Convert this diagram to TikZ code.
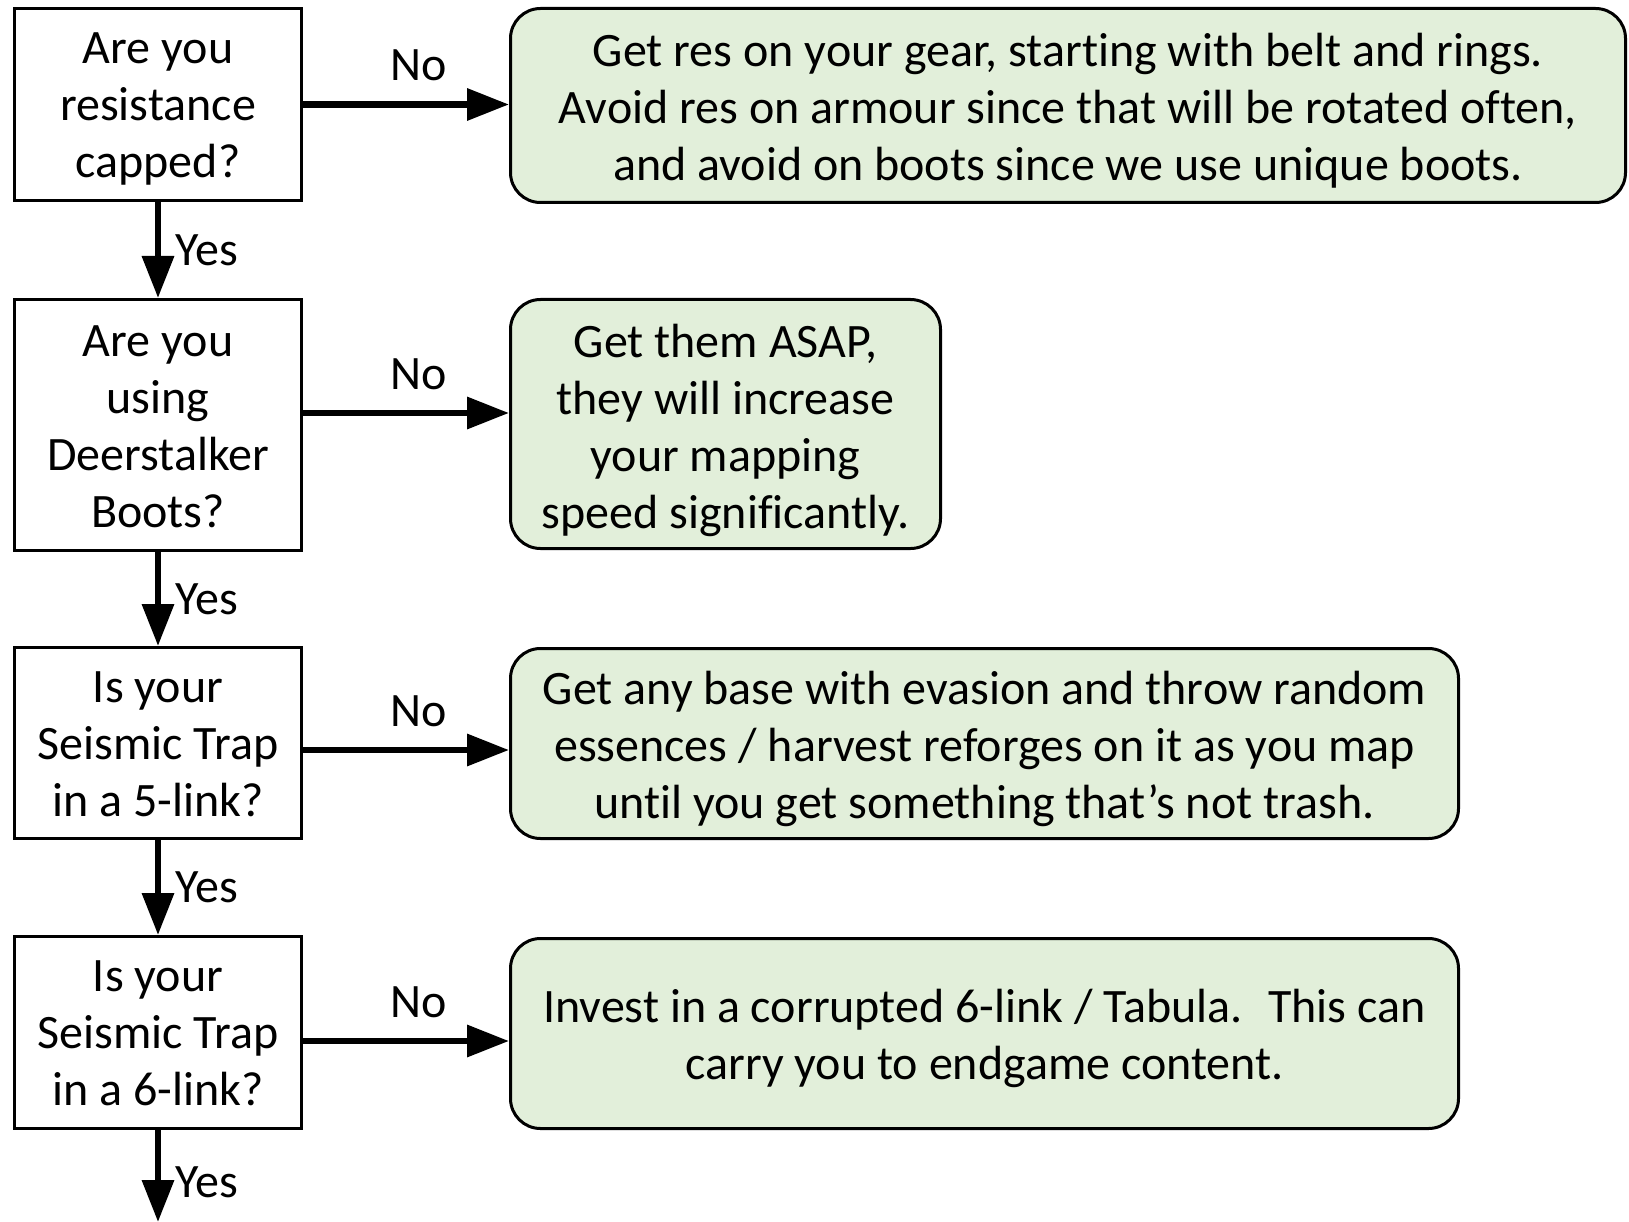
\documentclass[tikz,border=0pt]{standalone}
\usepackage{fontspec}
\setmainfont{Carlito}[Ligatures=NoCommon]
\usetikzlibrary{arrows.meta,calc}
\definecolor{gfill}{RGB}{226,239,218}
\begin{document}
\begin{tikzpicture}[x=1pt,y=-1pt,
  txt/.style={font=\fontsize{48pt}{57pt}\selectfont},
  tl/.style={txt,align=center,inner sep=0pt},
  qbox/.style={draw=black,line width=3pt,fill=white,inner sep=0pt,minimum width=287.5pt},
  abox/.style={draw=black,line width=3pt,fill=gfill,rounded corners=30pt,inner sep=0pt},
  harr/.style={line width=6.5pt,-{Triangle[length=42pt,width=31pt]}},
  varr/.style={line width=6.5pt,-{Triangle[length=42pt,width=31pt]}},
  nolab/.style={txt,pos=0.56,above=20pt,inner sep=0pt},
  yeslab/.style={txt,anchor=west,xshift=14pt,inner sep=0pt}]
\useasboundingbox (0,0) rectangle (1629,1222);

\node[qbox,minimum height=192pt,label={[tl,yshift=-4pt]center:{Are you\\resistance\\capped?}}] (q1) at (158,104.5) {};
\node[qbox,minimum height=251pt,label={[tl,yshift=-1.5pt]center:{Are you\\using\\Deerstalker\\Boots?}}] (q2) at (158,425) {};
\node[qbox,minimum height=191pt,label={[tl,yshift=-1pt]center:{Is your\\Seismic Trap\\in a 5-link?}}] (q3) at (158,743) {};
\node[qbox,minimum height=192pt,label={[tl,yshift=-1pt]center:{Is your\\Seismic Trap\\in a 6-link?}}] (q4) at (158,1032.5) {};
\coordinate (qend) at (158,1222);

\node[abox,minimum width=1115pt,minimum height=194pt,
  label={[tl,yshift=-5.5pt]center:{Get res on your gear, starting with belt and rings.\\Avoid res on armour since that will be rotated often,\\and avoid on boots since we use unique boots.}}] (a1) at (1068,105.5) {};
\node[abox,minimum width=430pt,minimum height=249pt,
  label={[tl,yshift=-6pt]center:{Get them ASAP,\\they will increase\\your mapping\\speed significantly.}}] (a2) at (725.5,424) {};
\node[abox,minimum width=948pt,minimum height=190pt,
  label={[tl,yshift=-5pt]center:{Get any base with evasion and throw random\\essences / harvest reforges on it as you map\\until you get something that’s not trash.}}] (a3) at (984.5,743.5) {};
\node[abox,minimum width=948pt,minimum height=190pt,
  label={[tl,yshift=-5pt]center:{Invest in a corrupted 6-link / Tabula.~ This can\\carry you to endgame content.}}] (a4) at (984.5,1033.5) {};

\draw[harr] (q1.east) -- node[nolab]{No} (q1.east -| a1.west);
\draw[harr] ([yshift=12pt]q2.east) -- node[nolab]{No} ([yshift=12pt]q2.east -| a2.west);
\draw[harr] ([yshift=-7pt]q3.east) -- node[nolab]{No} ([yshift=-7pt]q3.east -| a3.west);
\draw[harr] ([yshift=-8.5pt]q4.east) -- node[nolab]{No} ([yshift=-8.5pt]q4.east -| a4.west);

\draw[varr] (q1.south) -- node[yeslab]{Yes} (q2.north);
\draw[varr] (q2.south) -- node[yeslab]{Yes} (q3.north);
\draw[varr] (q3.south) -- node[yeslab]{Yes} (q4.north);
\draw[varr] (q4.south) -- node[yeslab,pos=0.57]{Yes} (qend);
\end{tikzpicture}
\end{document}
